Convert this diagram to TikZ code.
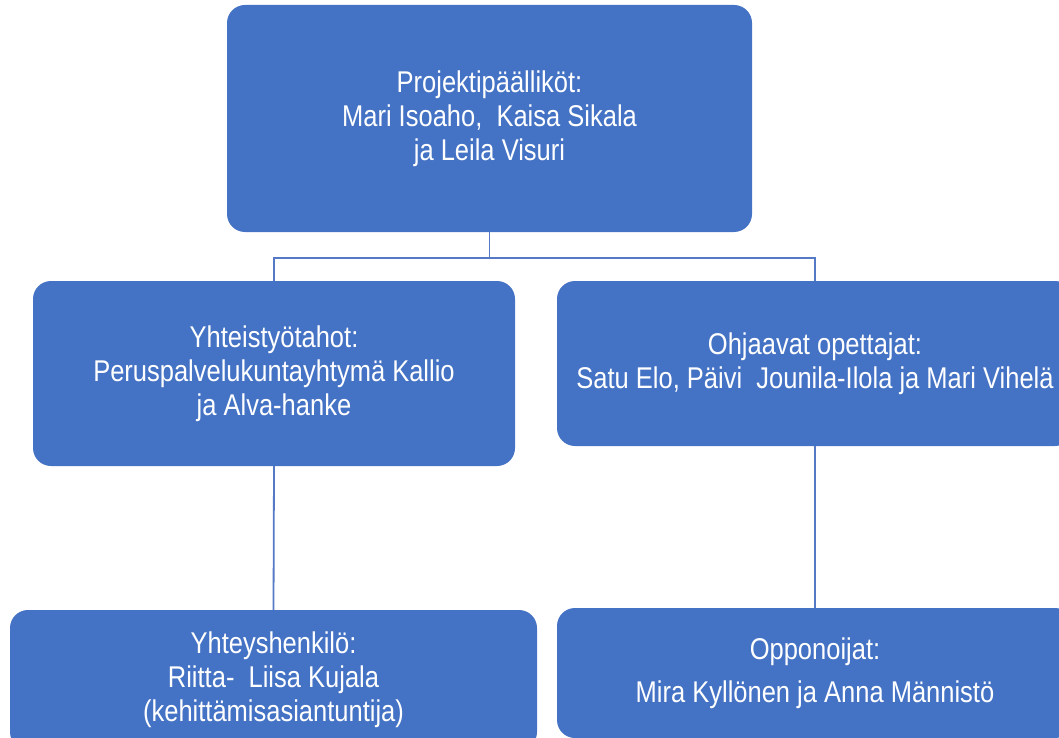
\documentclass[tikz,border=0pt]{standalone}
\usepackage{fontspec}
\setmainfont{Liberation Sans}[FakeStretch=0.85]
\usepackage{tikz}

\definecolor{boxblue}{HTML}{4472C4}
\definecolor{lineblue}{HTML}{5579C4}

\begin{document}
\begin{tikzpicture}[x=1pt, y=-1pt,
    orgbox/.style={rectangle, rounded corners=18pt, fill=boxblue, text=white,
        align=center, inner sep=0pt, font=\fontsize{30}{34}\selectfont},
    link/.style={draw=lineblue, line width=1.8pt}]
    \useasboundingbox (0,0) rectangle (1059,738);
    \clip (0,0) rectangle (1059,738);
    % Top level
    \node[orgbox, minimum width=525pt, minimum height=227pt] (Lead) at (489.5,118.5)
        {Projektipäälliköt:\\Mari Isoaho, \ Kaisa Sikala\\ja Leila Visuri};
    % Second level
    \node[orgbox, minimum width=482pt, minimum height=185pt] (Partner) at (274,373.5)
        {Yhteistyötahot:\\Peruspalvelukuntayhtymä Kallio\\ja Alva-hanke};
    \node[orgbox, minimum width=516pt, minimum height=165pt] (Teacher) at (815,363.5)
        {Ohjaavat opettajat:\\Satu Elo, Päivi \ Jounila-Ilola ja Mari Vihelä};
    % Third level
    \node[orgbox, minimum width=527pt, minimum height=140pt] (Contact) at (273.5,680)
        {Yhteyshenkilö:\\Riitta- \ Liisa Kujala\\(kehittämisasiantuntija)};
    \node[orgbox, minimum width=516pt, minimum height=130pt] (Opponent) at (815,673)
        {Opponoijat:\\[9pt]Mira Kyllönen ja Anna Männistö};
    % Links
    \foreach \child in {Partner,Teacher} {
        \draw[link] (Lead.south) -- ++(0,26) -| (\child.north);
    }
    \foreach \parent/\child in {Partner/Contact,Teacher/Opponent} {
        \draw[link] (\parent.south) -- (\child.north);
    }
\end{tikzpicture}
\end{document}
